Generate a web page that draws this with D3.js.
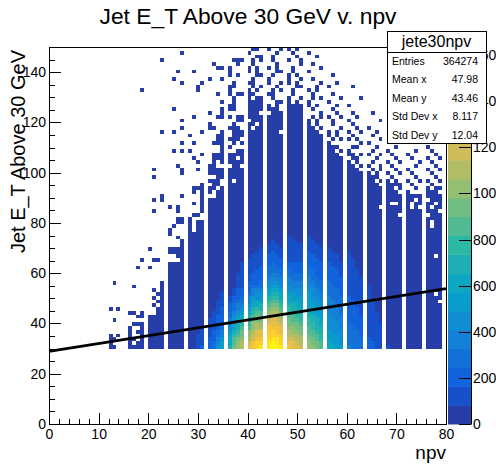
<!DOCTYPE html>
<html>
<head>
<meta charset="utf-8">
<script src="https://cdn.jsdelivr.net/npm/d3@7"></script>
<style>
body { margin: 0; background: #fff; }
text { font-family: "Liberation Sans", Arial, Helvetica, sans-serif; }
</style>
</head>
<body>
<svg id="chart" width="496" height="472"></svg>
<script>
// histogram binning: 100 x 100 bins, npv 0-80, E_T 0-150
var npvRange = [0, 80];
var etRange = [0, 150];
var nBinsX = 100;
var nBinsY = 100;
var firstRowBin = 20; // E_T >= 30

var zMax = 1635;
var nLevels = 20;

var xTicks = [0, 10, 20, 30, 40, 50, 60, 70, 80];
var yTicks = [0, 20, 40, 60, 80, 100, 120, 140];
var zTicks = [0, 200, 400, 600, 800, 1000, 1200, 1400, 1600];

// fitted straight line (two end points)
var fitX = [0, 80];
var fitY = [28.9, 53.86];

var statsTitle = 'jete30npv';
var statsLabels = ['Entries', 'Mean x', 'Mean y', 'Std Dev x', 'Std Dev y'];
var statsValues = ['364274', '47.98', '43.46', '8.117', '12.04'];

// per npv value: highest y row (counted from E_T=30, 1.5 GeV rows) of the filled run, -1 = none
var solidTop = [
  -1, -1, -1, -1, -1, -1, -1, -1, -1, -1,
  -1, -1, -1, -1, -1, -1, -1, -1, -1, -1,
  8, 8, 10, 17, 22, 22, 22, 28, 34, 30,
  33, 39, 39, 39, 39, 39, 51, 51, 51, 51,
  66, 65, 66, 64, 61, 62, 63, 60, 64, 63,
  64, 62, 58, 57, 56, 55, 53, 52, 50, 49,
  49, 48, 47, 46, 46, 45, 43, 42, 43, 42,
  41, 40, 40, 39, 38, 39, 42, 41, 42, 40
];

// isolated filled rows above the run
var extraCells = {
  12: [0, 1, 2, 3, 10],
  13: [0, 2, 7, 17],
  14: [3, 10],
  16: [0, 1, 2, 3, 4, 5, 9],
  17: [0, 2, 6, 9, 16],
  18: [0, 1, 4, 6, 8, 21],
  19: [0, 1, 2, 3, 4, 5, 6, 8, 9, 23, 68],
  20: [21, 26],
  21: [11, 13, 15, 23, 36, 39, 45, 47],
  22: [12, 14, 23],
  23: [39, 40, 57, 76],
  24: [25, 26, 30, 31, 37],
  25: [25, 26, 32, 52, 57, 63, 71],
  26: [24, 25, 26, 29, 33, 34, 36, 37, 48, 73],
  27: [33, 34, 40, 46, 47, 52, 54, 58, 60, 70, 78],
  28: [52, 56],
  29: [35, 38, 41, 42, 50, 54, 61, 73],
  30: [35, 42, 47, 49, 68, 69],
  31: [40, 41, 42, 43, 51, 57, 70],
  32: [41, 42, 44, 46, 47, 48, 58, 59, 62, 71],
  33: [42, 43, 44, 46, 47, 48, 49, 50, 51, 54, 58, 75],
  34: [40, 41, 43, 44, 45, 46, 47, 50, 51, 54, 55, 56, 61, 67, 74],
  35: [40, 41, 42, 45, 46, 47, 49, 50, 51, 52, 53, 54, 55, 56, 57, 61, 62, 63, 65, 71, 74],
  36: [53, 55, 58, 61, 63, 64, 67, 68, 69, 72, 73, 74],
  37: [54, 55, 56, 57, 58, 59, 63, 64, 65, 66, 69, 70, 76],
  38: [52, 55, 56, 57, 58, 60, 61, 67, 72, 75, 76],
  39: [52, 54, 56, 57, 60, 61, 67, 76],
  40: [67, 68, 70, 73, 74, 78],
  41: [67, 69, 70, 71, 75, 76, 79],
  42: [68, 72, 73, 74, 77, 79],
  43: [65, 66, 69, 72, 76, 77],
  44: [63, 64, 67, 70, 71, 74, 79],
  45: [63, 66, 67, 68, 72, 76, 77],
  46: [64, 65, 69, 73, 74, 75, 78],
  47: [61, 62, 65, 68, 70, 73, 79],
  48: [65, 66, 70, 71, 72, 76, 79],
  49: [64, 67, 68, 73, 74, 78],
  50: [65, 69, 70, 72, 77, 79],
  51: [63, 64, 66, 69, 71, 75, 76],
  52: [59, 60, 64, 65, 68, 73, 78],
  53: [58, 61, 63, 66, 67, 71, 75],
  54: [57, 59, 60, 64, 68, 69, 77],
  55: [56, 58, 61, 62, 66, 70, 74],
  56: [54, 56, 57, 61, 65, 69],
  57: [53, 55, 59, 60, 63, 67, 72],
  58: [51, 53, 56, 57, 62, 64, 70],
  59: [50, 52, 55, 58, 61, 66],
  60: [51, 52, 55, 57, 60, 64],
  61: [50, 51, 53, 56, 59, 62, 69],
  62: [49, 50, 53, 55, 58, 61],
  63: [48, 51, 54, 57, 66],
  64: [48, 51, 54, 58],
  65: [47, 49, 52, 56, 62],
  66: [45, 46, 50, 53, 57],
  67: [44, 47, 48, 51, 55, 60],
  68: [44, 46, 49, 52],
  69: [43, 45, 48, 51, 56],
  70: [43, 44, 47, 50, 53],
  71: [42, 43, 46, 49, 55],
  72: [41, 44, 47, 51],
  73: [40, 43, 46, 50, 55],
  74: [40, 42, 45, 48, 52],
  75: [40, 44, 49],
  76: [44, 47, 50, 53],
  77: [43, 46, 49, 52],
  78: [45, 48, 51],
  79: [42, 44, 47, 50]
};

// empty rows inside the filled run
var holeCells = {
  31: [34, 35], 36: [48], 37: [44], 38: [50], 39: [48],
  40: [60], 41: [58], 42: [59], 43: [62], 47: [57],
  67: [37], 69: [38], 70: [38], 71: [35], 73: [37, 38], 75: [37],
  76: [35, 39], 77: [32, 33, 37], 78: [14, 24, 38], 79: [12, 36]
};

// colour level (base 36 digit, 0..j) of the lowest rows, bottom row first
var coreLevels = {
  30: '1111',
  31: '211111',
  32: '22211111',
  33: '3322211111',
  34: '5443322221111',
  35: '665443322221111',
  36: '87766544332211',
  37: 'baa9876554332211',
  38: 'ccba9887654432221111',
  39: 'ddcbba98765433221111111',
  40: 'fedcca988765443222111111',
  41: 'ggeedccba9876644322211111',
  42: 'hhgffddbba9775543222211111',
  43: 'ihgffdcbaa88655433222211111',
  44: 'iihhggfedcba9876554333222111',
  45: 'jjihhgffedcba9876554333222111',
  46: 'jiihggfeddcba987654433222111',
  47: 'ihhgffedcba9877654433222111',
  48: 'gfeddcbba998776554433221111111',
  49: 'ffedccbaa98876654433222111111',
  50: 'feddcbba99877655443322211111',
  51: 'eddcbba998776655443322211111',
  52: 'ccbbaa998877666554433322221111',
  53: 'cbbaa998877665554433322221111',
  54: 'bbaa988876665544333222221111',
  55: 'aa9988776655544333222221111',
  56: '776665555444443333222221111',
  57: '76665555444443333222221111',
  58: '6665555444433333222221111',
  59: '65555444433333222221111',
  60: '43333332222222111111111111',
  61: '333333222222211111111111',
  62: '333332222221111111111',
  63: '3332222221111111111',
  64: '22211111111111111',
  65: '2211111111111',
  66: '1111111111',
  67: '1111111',
  68: '1'
};

// ROOT "bird" palette
var birdStops = [0, 0.125, 0.25, 0.375, 0.5, 0.625, 0.75, 0.875, 1];
var birdColors = ['rgb(53,42,135)', 'rgb(15,92,221)', 'rgb(20,129,214)', 'rgb(6,164,202)',
  'rgb(46,183,164)', 'rgb(135,191,119)', 'rgb(209,187,89)', 'rgb(254,200,50)', 'rgb(249,251,14)'];

var frame = { left: 49, right: 446, top: 47, bottom: 424 };
var bar = { left: 448, right: 471 };

var svg = d3.select('#chart');
svg.append('rect').attr('width', 496).attr('height', 472).attr('fill', '#fff');

var x = d3.scaleLinear().domain(npvRange).range([frame.left, frame.right]);
var y = d3.scaleLinear().domain(etRange).range([frame.bottom, frame.top]);
var z = d3.scaleLinear().domain([0, zMax]).range([frame.bottom, frame.top]);

var palette = d3.scaleLinear().domain(birdStops).range(birdColors).interpolate(d3.interpolateRgb);
var levelColors = d3.range(nLevels).map(function (l) {
  return palette(Math.floor((l + 0.99) * 255 / nLevels) / 255);
});
var zColor = d3.scaleQuantize().domain([0, zMax]).range(levelColors);

var binW = (npvRange[1] - npvRange[0]) / nBinsX;
var binH = (etRange[1] - etRange[0]) / nBinsY;

// fill the bins
var cells = [];
for (var n = 0; n < solidTop.length; n++) {
  var rows = {};
  for (var i = 0; i <= solidTop[n]; i++) rows[i] = true;
  (extraCells[n] || []).forEach(function (r) { rows[r] = true; });
  (holeCells[n] || []).forEach(function (r) { delete rows[r]; });
  var core = coreLevels[n] || '';
  var bx = Math.floor((n - npvRange[0]) / binW + 1e-6);
  Object.keys(rows).forEach(function (key) {
    var r = +key;
    var lvl = r < core.length ? parseInt(core[r], 36) : 0;
    cells.push({ bx: bx, by: firstRowBin + r, value: (lvl + 0.5) * zMax / nLevels });
  });
}

svg.append('g').selectAll('rect')
  .data(cells)
  .enter().append('rect')
  .attr('x', function (d) { return Math.round(x(d.bx * binW)); })
  .attr('width', function (d) { return Math.round(x((d.bx + 1) * binW)) - Math.round(x(d.bx * binW)); })
  .attr('y', function (d) { return Math.round(y((d.by + 1) * binH)); })
  .attr('height', function (d) { return Math.round(y(d.by * binH)) - Math.round(y((d.by + 1) * binH)); })
  .attr('fill', function (d) { return zColor(d.value); })
  .attr('shape-rendering', 'crispEdges');

// fit line
svg.append('path')
  .datum(d3.zip(fitX, fitY))
  .attr('d', d3.line().x(function (d) { return x(d[0]); }).y(function (d) { return y(d[1]); }))
  .attr('fill', 'none')
  .attr('stroke', '#000')
  .attr('stroke-width', 2.6);

// frame
svg.append('rect')
  .attr('x', frame.left).attr('y', frame.top)
  .attr('width', frame.right - frame.left).attr('height', frame.bottom - frame.top)
  .attr('fill', 'none').attr('stroke', '#000').attr('stroke-width', 1)
  .attr('shape-rendering', 'crispEdges');

function styleAxis(g, size) {
  g.select('.domain').remove();
  g.selectAll('line').attr('stroke', '#000').attr('shape-rendering', 'crispEdges');
  g.selectAll('text').attr('font-size', size).attr('fill', '#000')
    .attr('font-family', '"Liberation Sans", Arial, sans-serif');
}

// x axis
svg.append('g').attr('transform', 'translate(0,' + frame.bottom + ')')
  .call(d3.axisBottom(x).tickValues(d3.range(0, 81, 2)).tickSize(-5.5).tickFormat(''))
  .call(styleAxis, 14);
svg.append('g').attr('transform', 'translate(0,' + frame.bottom + ')')
  .call(d3.axisBottom(x).tickValues(xTicks).tickSize(-11).tickPadding(5).tickFormat(d3.format('d')))
  .call(styleAxis, 14);

// y axis
svg.append('g').attr('transform', 'translate(' + frame.left + ',0)')
  .call(d3.axisLeft(y).tickValues(d3.range(0, 151, 5)).tickSize(-6).tickFormat(''))
  .call(styleAxis, 14);
svg.append('g').attr('transform', 'translate(' + frame.left + ',0)')
  .call(d3.axisLeft(y).tickValues(yTicks).tickSize(-12).tickPadding(3).tickFormat(d3.format('d')))
  .call(styleAxis, 14);

// colour bar
svg.append('g').selectAll('rect')
  .data(levelColors)
  .enter().append('rect')
  .attr('x', bar.left)
  .attr('width', bar.right - bar.left)
  .attr('y', function (c, l) { return z((l + 1) * zMax / nLevels); })
  .attr('height', function (c, l) { return z(l * zMax / nLevels) - z((l + 1) * zMax / nLevels) + 0.5; })
  .attr('fill', function (c) { return c; });

var zAxisG = svg.append('g').attr('transform', 'translate(' + bar.right + ',0)')
  .call(d3.axisRight(z).tickValues(zTicks).tickSize(-12).tickSizeOuter(0).tickPadding(2).tickFormat(d3.format('d')));
zAxisG.select('.domain').attr('stroke', '#000');
zAxisG.selectAll('line').attr('stroke', '#000').attr('shape-rendering', 'crispEdges');
zAxisG.selectAll('text').attr('font-size', 14).attr('fill', '#000')
  .attr('font-family', '"Liberation Sans", Arial, sans-serif');

// stats box (drawn over the colour bar labels, as in the original)
var stats = svg.append('g');
stats.append('rect').attr('x', 387).attr('y', 31).attr('width', 99).attr('height', 112)
  .attr('fill', '#fff').attr('stroke', '#000').attr('shape-rendering', 'crispEdges');
stats.append('line').attr('x1', 387).attr('x2', 486).attr('y1', 52).attr('y2', 52)
  .attr('stroke', '#000').attr('shape-rendering', 'crispEdges');
stats.append('text').attr('x', 436.5).attr('y', 47).attr('text-anchor', 'middle')
  .attr('font-size', 16).text(statsTitle);
stats.selectAll('.lab').data(statsLabels).enter().append('text')
  .attr('x', 392).attr('y', function (d, i) { return 64.5 + i * 18.5; })
  .attr('font-size', 10.5).text(function (d) { return d; });
stats.selectAll('.val').data(statsValues).enter().append('text')
  .attr('x', 478).attr('y', function (d, i) { return 64.5 + i * 18.5; })
  .attr('text-anchor', 'end').attr('font-size', 10.5).text(function (d) { return d; });

// titles
svg.append('text').attr('x', 248).attr('y', 24).attr('text-anchor', 'middle')
  .attr('font-size', 22.8).text('Jet E_T Above 30 GeV v. npv');
svg.append('text').attr('x', frame.right).attr('y', 459).attr('text-anchor', 'end')
  .attr('font-size', 19).text('npv');
svg.append('text').attr('transform', 'translate(25,50) rotate(-90)').attr('text-anchor', 'end')
  .attr('font-size', 20).text('Jet E_T Above 30 GeV');
</script>
</body>
</html>
